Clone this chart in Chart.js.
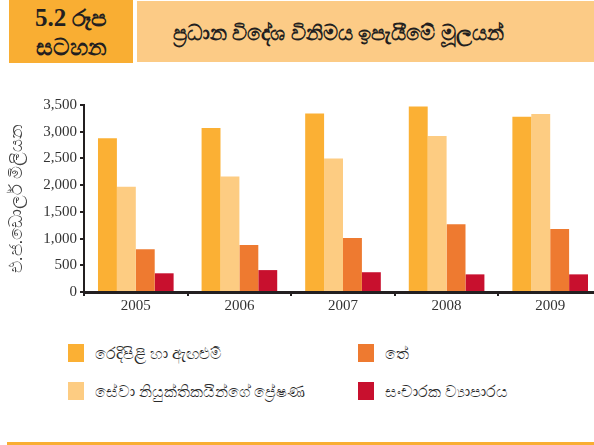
<!DOCTYPE html>
<html>
<head>
<meta charset="utf-8">
<script src="https://cdn.jsdelivr.net/npm/chart.js@4"></script>
<style>
  html, body { margin: 0; padding: 0; background: #fff; overflow: hidden; }
  body { width: 594px; height: 445px; position: relative; font-family: "Noto Sans", "DejaVu Sans", sans-serif; color: #231f20; }
  .fig-no { position: absolute; left: 9px; top: 0; width: 124px; height: 63px; background: #f9ae33;
            font-weight: bold; font-size: 23px; line-height: 28px; text-align: center;
            display: flex; flex-direction: column; justify-content: center; }
  .fig-no .num { font-family: "Liberation Serif", "DejaVu Serif", serif; font-size: 25px; }
  .fig-title { position: absolute; left: 137px; top: 1px; width: 421px; height: 61px; background: #fccb86;
               font-weight: bold; font-size: 21px; display: flex; align-items: center; padding-left: 36px; }
  .chart-box { position: absolute; left: 0; top: 90px; width: 602px; height: 230px; }
  .legend { position: absolute; top: 0; left: 0; width: 594px; }
  .legend-item { position: absolute; font-size: 15.5px; color: #2a2a2a; display: flex; align-items: center; }
  .legend-item span.sw { display: inline-block; width: 16px; height: 18px; margin-right: 11px; }
  .rule { position: absolute; left: 7px; top: 442px; width: 587px; height: 3px; background: #f9ae33; }
</style>
</head>
<body>
<div class="fig-no"><div><span class="num">5.2</span> රූප</div><div>සටහන</div></div>
<div class="fig-title">ප්‍රධාන විදේශ විනිමය ඉපැයීමේ මූලයන්</div>
<div class="chart-box"><canvas id="chart" width="602" height="230"></canvas></div>
<div class="legend" id="legend"></div>
<div class="rule"></div>

<script>
const years = ['2005', '2006', '2007', '2008', '2009'];
const seriesNames = [
    'රෙදිපිළි හා ඇඟළුම්',
    'සේවා නියුක්තිකයින්ගේ ප්‍රේෂණ',
    'තේ',
    'සංචාරක ව්‍යාපාරය'
];
const garments = [2880, 3070, 3340, 3470, 3280];
const remittances = [1970, 2160, 2500, 2920, 3330];
const tea = [800, 880, 1010, 1270, 1180];
const tourism = [350, 410, 370, 330, 330];
const yTicks = [0, 500, 1000, 1500, 2000, 2500, 3000, 3500];
const yTitle = 'එ.ජ.ඩොලර් මිලියන';

const colors = ['#fbb034', '#fdcc82', '#ee7a30', '#c8102e'];
const values = [garments, remittances, tea, tourism];

const ink = '#231f20';
const serif = '"Liberation Serif", "DejaVu Serif", serif';

const ctx = document.getElementById('chart');
new Chart(ctx, {
    type: 'bar',
    data: {
        labels: years,
        datasets: values.map((v, i) => ({
            label: seriesNames[i],
            data: v,
            backgroundColor: colors[i],
            borderWidth: 0
        }))
    },
    options: {
        responsive: false,
        animation: false,
        categoryPercentage: 0.73,
        barPercentage: 1.0,
        layout: { padding: { top: 15, right: 0, left: 0, bottom: 0 } },
        plugins: {
            legend: { display: false },
            tooltip: { enabled: false }
        },
        scales: {
            y: {
                min: 0,
                max: 3500,
                afterBuildTicks: (s) => { s.ticks = yTicks.map(v => ({ value: v })); },
                afterFit: (s) => { s.width = 84; },
                border: { color: ink, width: 2 },
                grid: { drawOnChartArea: false, drawTicks: true, tickLength: 4, color: ink, lineWidth: 2 },
                ticks: {
                    padding: 3,
                    color: '#333',
                    font: { family: serif, size: 15 },
                    callback: (v) => v.toLocaleString('en-US')
                },
                title: {
                    display: true,
                    text: yTitle,
                    color: '#444',
                    padding: { top: 7, bottom: 0 },
                    font: { size: 17.5 }
                }
            },
            x: {
                afterFit: (s) => { s.height = 28; },
                border: { color: ink, width: 3 },
                grid: { offset: true, drawOnChartArea: false, drawTicks: true, tickLength: 4, color: ink, lineWidth: 2 },
                ticks: {
                    padding: 1,
                    color: '#333',
                    font: { family: serif, size: 15 }
                }
            }
        }
    }
});

// two-column legend under the plot, built from the same series arrays
const legendPos = [
    { left: 68, top: 342 },
    { left: 68, top: 380 },
    { left: 358, top: 342 },
    { left: 358, top: 380 }
];
const legend = document.getElementById('legend');
seriesNames.forEach((name, i) => {
    const item = document.createElement('div');
    item.className = 'legend-item';
    item.style.left = legendPos[i].left + 'px';
    item.style.top = legendPos[i].top + 'px';
    item.innerHTML = '<span class="sw" style="background:' + colors[i] + '"></span>';
    item.appendChild(document.createTextNode(name));
    legend.appendChild(item);
});
</script>
</body>
</html>
